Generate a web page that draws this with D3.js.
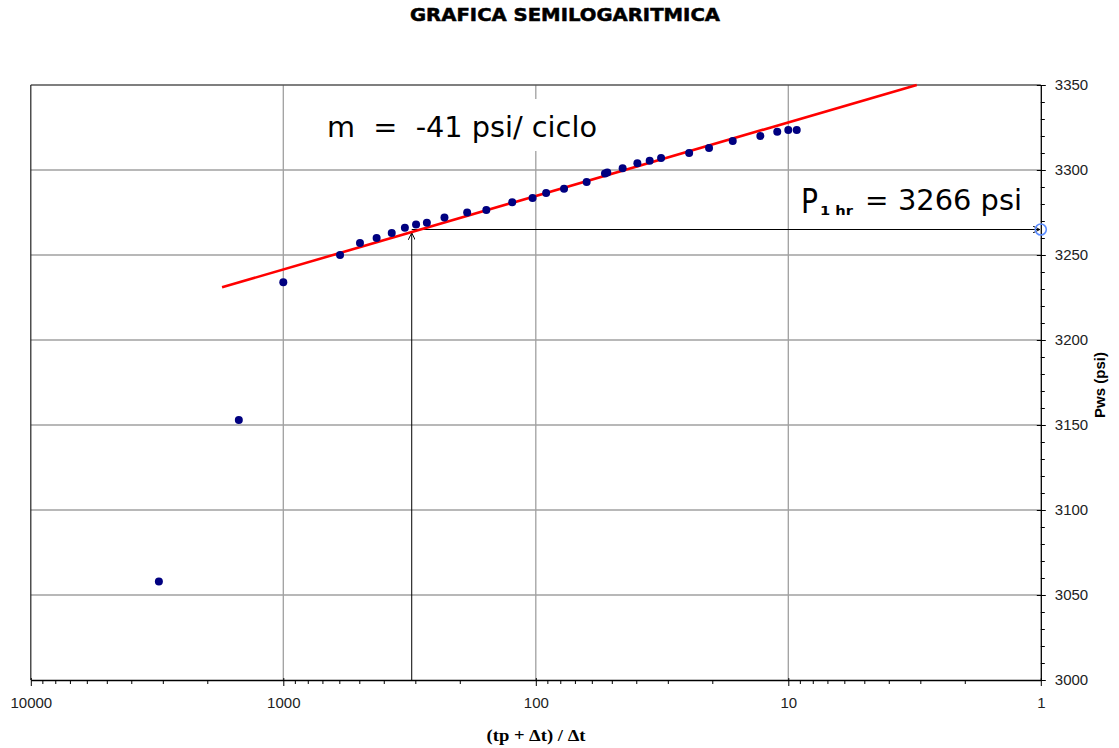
<!DOCTYPE html>
<html><head><meta charset="utf-8">
<script src="https://cdn.jsdelivr.net/npm/d3@7"></script>
<style>body{margin:0;background:#fff}svg{display:block}</style></head>
<body><svg id="c" width="1119" height="748"></svg>
<script>
// ---- data ----
const ratio = [3110,1500,1000,596,497,427,372,330,298,270,230,187,157,124,103,91,77.3,62.9,53.2,52.1,45.3,39.6,35.4,31.9,24.7,20.6,16.6,12.9,11.06,10,9.26];
const pws   = [3058,3153,3234,3250,3257,3260,3263,3266,3268,3269,3272,3275,3276.5,3281,3283.5,3286.5,3289,3293,3298,3298.5,3301,3304,3305.5,3307,3310,3313,3317,3320,3322.5,3323.5,3323.5];
const fitX = [1748, 3.1];
const fitP = [3231, 3350];
const p1hr = 3265;
const xArrow = 310;
const arrowTipP = 3263;
const xTicks = [10000, 1000, 100, 10, 1];
const yTicks = [3000, 3050, 3100, 3150, 3200, 3250, 3300, 3350];
const title = "GRAFICA SEMILOGARITMICA";
const slopeText = "m  =  -41 psi/ ciclo";
const p1hrText = "3266 psi";

// ---- layout ----
const L = 30.8, R = 1040.8, T = 85, B = 680;
const svg = d3.select("#c");
const x = d3.scaleLog().domain([10000, 1]).range([L, R]);
const y = d3.scaleLinear().domain([3000, 3350]).range([B, T]);

const minorX = [];
for (let k = 0; k < 4; k++) for (let m = 2; m <= 9; m++) minorX.push(m * Math.pow(10, k));
const minorY = d3.range(3000, 3351, 10).filter(v => !yTicks.includes(v));

// grid
const grid = svg.append("g").attr("stroke", "#a0a0a0").attr("stroke-width", 1.3);
grid.selectAll("line.v").data(xTicks.filter(d => d !== 10000 && d !== 1)).join("line")
  .attr("x1", d => x(d)).attr("x2", d => x(d)).attr("y1", T).attr("y2", B);
grid.selectAll("line.h").data(yTicks.filter(d => d !== 3000 && d !== 3350)).join("line")
  .attr("class","h")
  .attr("x1", L).attr("x2", R).attr("y1", d => y(d)).attr("y2", d => y(d));

// frame
svg.append("line").attr("x1", L).attr("x2", R).attr("y1", T).attr("y2", T).attr("stroke", "#555").attr("stroke-width", 1.5);
svg.append("line").attr("x1", L).attr("x2", L).attr("y1", T).attr("y2", B).attr("stroke", "#222").attr("stroke-width", 1.2);

// white box behind slope text
svg.append("rect").attr("x", 318).attr("y", 99).attr("width", 290).attr("height", 52).attr("fill", "#fff");

// axes
const axFont = "'Liberation Sans', Arial, sans-serif";
const gx = svg.append("g").attr("transform", `translate(0,${B})`)
  .call(d3.axisBottom(x).tickValues(xTicks).tickFormat(d3.format("d")).tickSize(6).tickSizeOuter(0));
gx.selectAll(".tick line").attr("y1", -2);
gx.selectAll("text").attr("y", 17).attr("font-size", 15).attr("font-family", axFont).attr("fill", "#222");
const gxm = svg.append("g").attr("transform", `translate(0,${B})`)
  .call(d3.axisBottom(x).tickValues(minorX).tickFormat("").tickSize(4).tickSizeOuter(0));
gxm.select(".domain").remove();

const gy = svg.append("g").attr("transform", `translate(${R},0)`)
  .call(d3.axisRight(y).tickValues(yTicks).tickFormat(d3.format("d")).tickSize(5).tickPadding(9).tickSizeOuter(0));
gy.selectAll(".tick line").attr("x1", -4);
gy.selectAll("text").attr("font-size", 15).attr("font-family", axFont).attr("fill", "#222");
const gym = svg.append("g").attr("transform", `translate(${R},0)`)
  .call(d3.axisRight(y).tickValues(minorY).tickFormat("").tickSize(4).tickSizeOuter(0));
gym.select(".domain").remove();
svg.selectAll(".domain").attr("stroke", "#000").attr("stroke-width", 1.3);

// arrows
const defs = svg.append("defs");
defs.append("marker").attr("id", "ah").attr("viewBox", "0 0 10 10").attr("refX", 10).attr("refY", 5)
  .attr("markerWidth", 7).attr("markerHeight", 7).attr("markerUnits", "userSpaceOnUse").attr("orient", "auto")
  .append("path").attr("d", "M0,0 L10,5 L0,10").attr("fill", "none").attr("stroke", "#000").attr("stroke-width", 1.4);
svg.append("line").attr("x1", x(xArrow)).attr("x2", x(xArrow)).attr("y1", y(3000)).attr("y2", y(arrowTipP))
  .attr("stroke", "#000").attr("stroke-width", 1).attr("marker-end", "url(#ah)");
svg.append("line").attr("x1", x(xArrow)).attr("x2", x(1) - 1).attr("y1", y(p1hr)).attr("y2", y(p1hr))
  .attr("stroke", "#000").attr("stroke-width", 1).attr("marker-end", "url(#ah)");

// fit line
svg.append("path").datum(fitX.map((d, i) => [d, fitP[i]]))
  .attr("d", d3.line().x(d => x(d[0])).y(d => y(d[1])))
  .attr("stroke", "#ff0000").attr("stroke-width", 2.6).attr("fill", "none");

// points
svg.append("g").selectAll("circle").data(ratio.map((d, i) => [d, pws[i]])).join("circle")
  .attr("cx", d => x(d[0])).attr("cy", d => y(d[1])).attr("r", 4).attr("fill", "#000080");

// p1hr marker
svg.append("circle").attr("cx", x(1)).attr("cy", y(p1hr)).attr("r", 5.5)
  .attr("fill", "none").attr("stroke", "#5b8cff").attr("stroke-width", 1.6);

// texts
const cf = "'DejaVu Sans', Verdana, sans-serif";
svg.append("text").attr("x", 565).attr("y", 21).attr("text-anchor", "middle")
  .attr("font-family", cf).attr("font-weight", "bold").attr("font-size", 17)
  .attr("stroke", "#000").attr("stroke-width", 0.5)
  .attr("textLength", 310).attr("lengthAdjust", "spacingAndGlyphs").text(title);
svg.append("text").attr("x", 327).attr("y", 137).style("white-space", "pre")
  .attr("font-family", cf).attr("font-size", 28)
  .attr("textLength", 270).attr("lengthAdjust", "spacingAndGlyphs").text(slopeText);
svg.append("text").attr("x", 801).attr("y", 213).attr("font-family", cf).attr("font-size", 33)
  .attr("textLength", 17).attr("lengthAdjust", "spacingAndGlyphs").text("P");
svg.append("text").attr("x", 820).attr("y", 215).attr("font-family", cf).attr("font-size", 13).attr("font-weight", "bold")
  .attr("textLength", 33).attr("lengthAdjust", "spacingAndGlyphs").text("1 hr");
svg.append("text").attr("x", 865).attr("y", 210).attr("font-family", cf).attr("font-size", 28).text("=");
svg.append("text").attr("x", 898).attr("y", 210).attr("font-family", cf).attr("font-size", 28)
  .attr("textLength", 124).attr("lengthAdjust", "spacingAndGlyphs").text(p1hrText);

svg.append("text").attr("x", 536).attr("y", 741).attr("text-anchor", "middle")
  .attr("font-family", "'Liberation Serif', 'Times New Roman', serif").attr("font-weight", "bold").attr("font-size", 17)
  .attr("textLength", 99).attr("lengthAdjust", "spacingAndGlyphs")
  .text("(tp + \u0394t) / \u0394t");
svg.append("text").attr("transform", "translate(1105,385) rotate(-90)").attr("text-anchor", "middle")
  .attr("font-family", axFont).attr("font-weight", "bold").attr("font-size", 15)
  .text("Pws (psi)");
</script></body></html>
